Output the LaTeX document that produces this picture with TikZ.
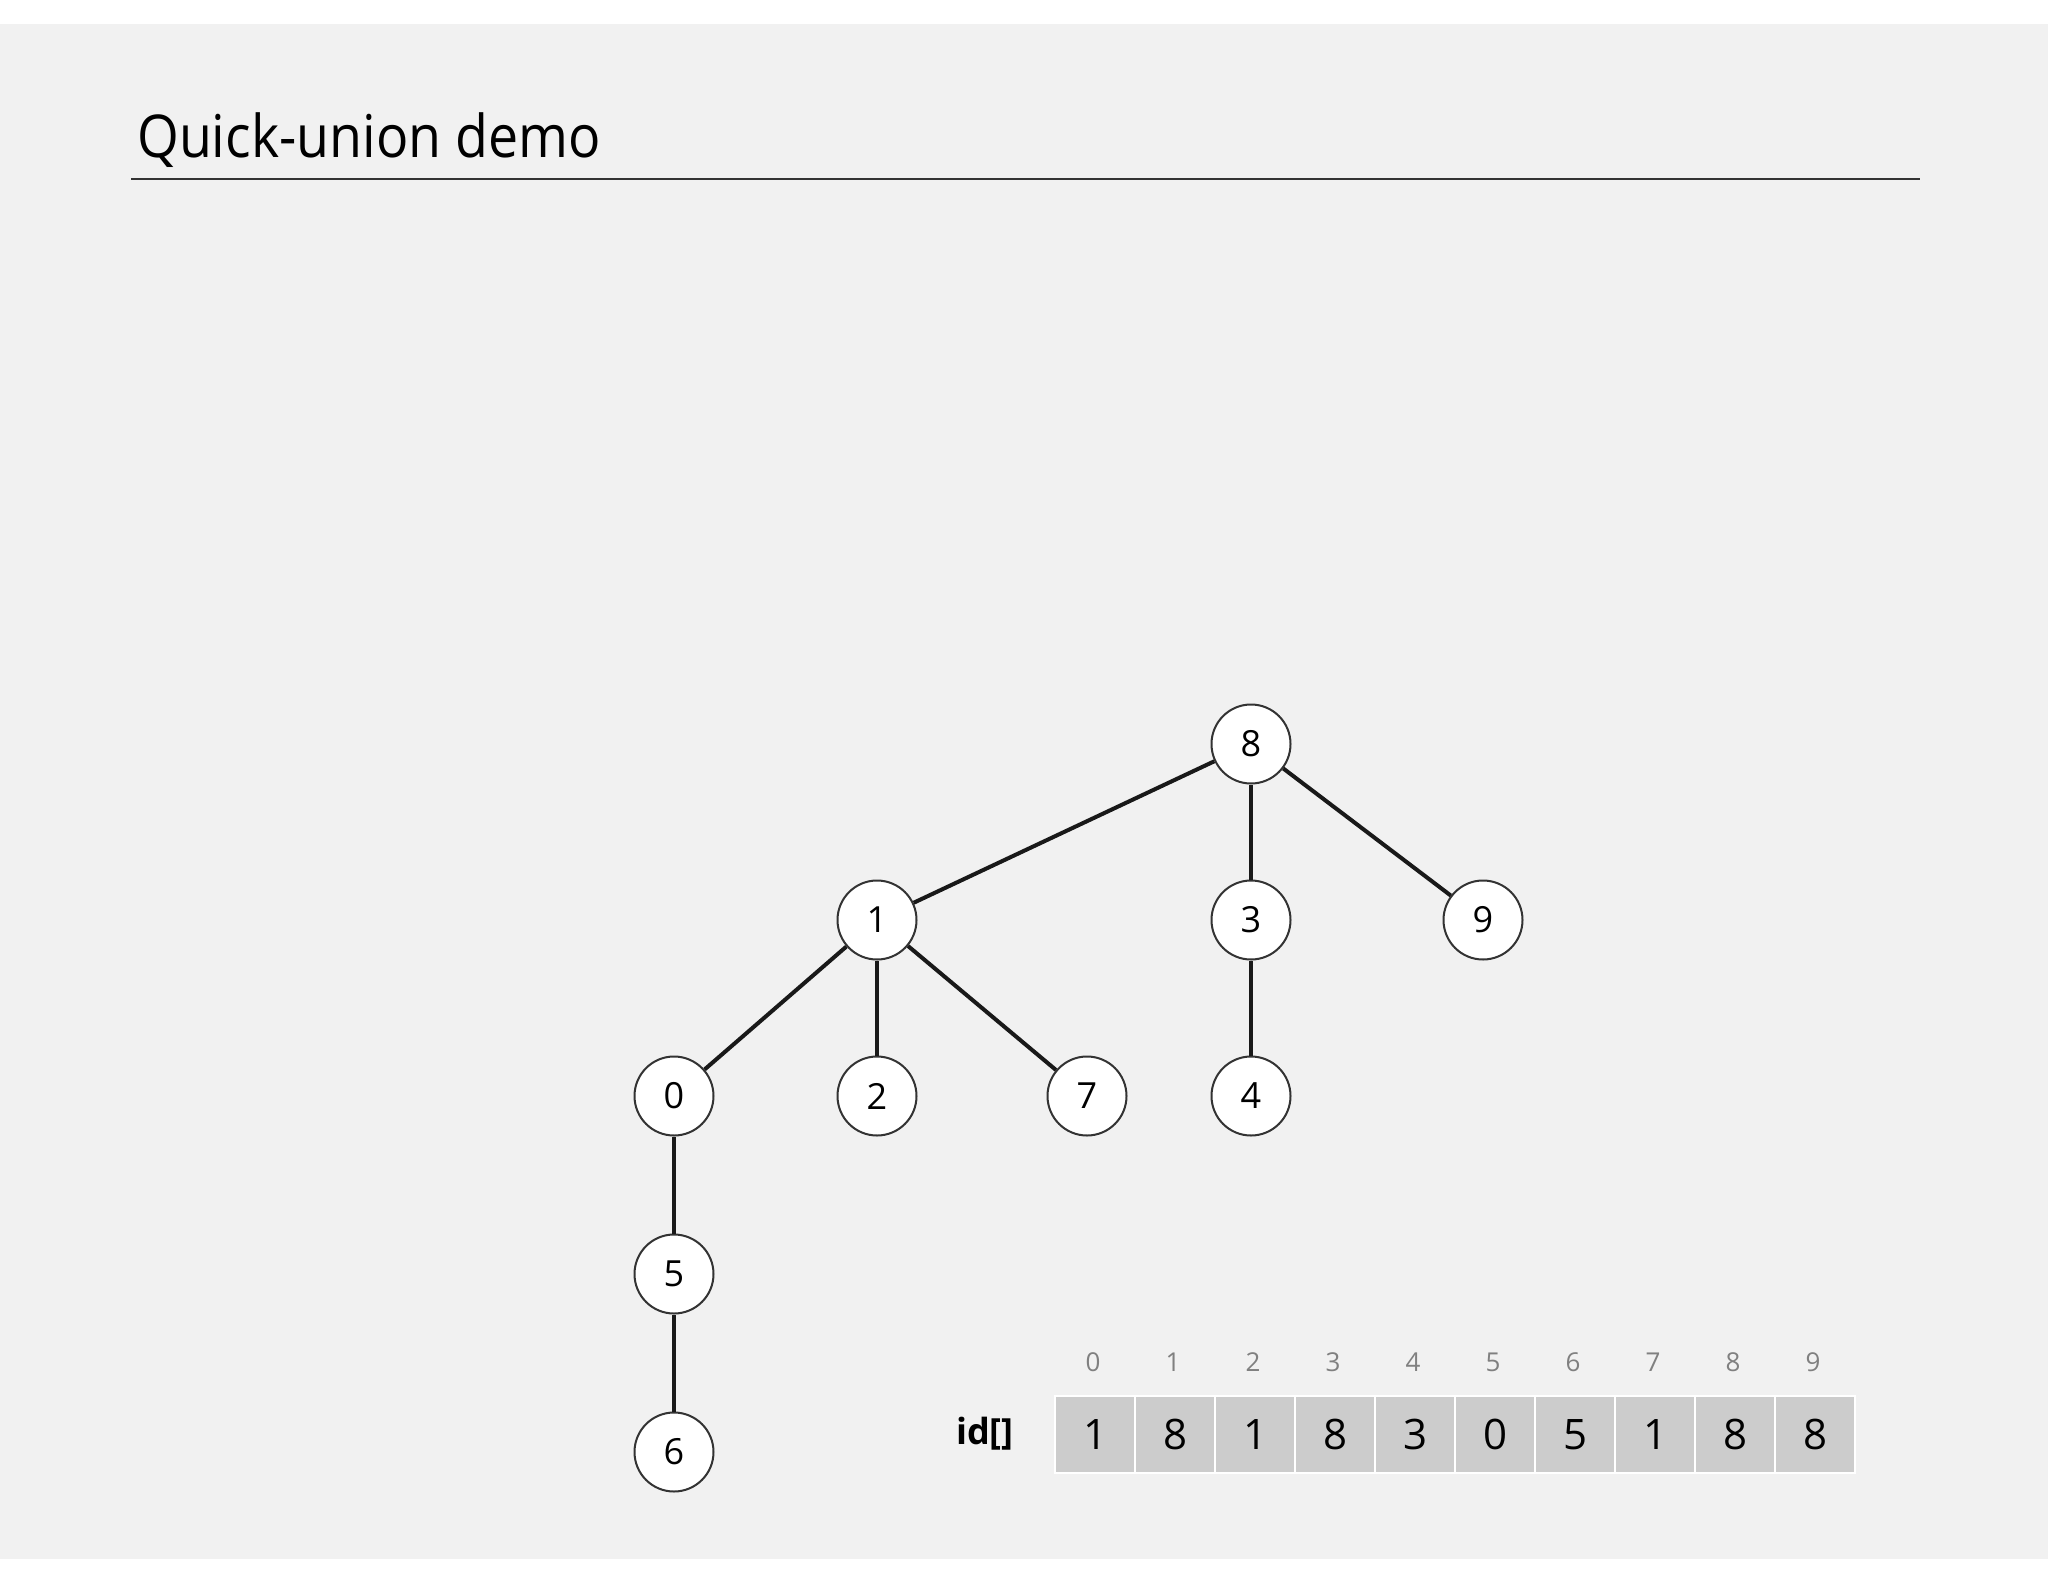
\documentclass[tikz,border=0pt]{standalone}
\usepackage{fontspec}
\setmainfont{Open Sans}
\newfontfamily\titlefont[FakeStretch=0.91]{Open Sans}
\definecolor{bggray}{HTML}{F1F1F1}
\definecolor{cellgray}{HTML}{CCCCCC}
\begin{document}
\begin{tikzpicture}[x=1pt,y=-1pt,
  treenode/.style={circle,draw=black!80,line width=2pt,fill=white,minimum size=79pt,inner sep=0pt,font=\fontsize{36}{36}\selectfont},
  edge/.style={line width=4pt,black!90},
  cellbox/.style={rectangle,fill=cellgray,draw=white,line width=2pt,minimum width=80pt,minimum height=77pt,inner sep=0pt,font=\fontsize{42}{42}\selectfont},
  idxlabel/.style={text=black!50,inner sep=0pt,font=\fontsize{26}{26}\selectfont}]
\useasboundingbox (0,0) rectangle (2048,1582);
\fill[white] (0,0) rectangle (2048,1582);
\fill[bggray] (0,24) rectangle (2048,1559);
% title
\node[anchor=base west,inner sep=0pt,font=\titlefont\fontsize{59}{59}\selectfont] (title) at (137,157) {Quick-union demo};
\draw[line width=2.5pt,black!80] (131,179) -- (1920,179);
% tree
\node[treenode] (n8) at (1251,744) {8};
\node[treenode] (n1) at (877,920) {1};
\node[treenode] (n3) at (1251,920) {3};
\node[treenode] (n9) at (1483,920) {9};
\node[treenode] (n0) at (674,1096) {0};
\node[treenode] (n2) at (877,1096) {2};
\node[treenode] (n7) at (1087,1096) {7};
\node[treenode] (n4) at (1251,1096) {4};
\node[treenode] (n5) at (674,1274) {5};
\node[treenode] (n6) at (674,1452) {6};
\draw[edge] (n8) -- (n1);
\draw[edge] (n8) -- (n3);
\draw[edge] (n8) -- (n9);
\draw[edge] (n1) -- (n0);
\draw[edge] (n1) -- (n2);
\draw[edge] (n1) -- (n7);
\draw[edge] (n3) -- (n4);
\draw[edge] (n0) -- (n5);
\draw[edge] (n5) -- (n6);
% array
\node[anchor=center,inner sep=0pt,font=\fontsize{36}{36}\selectfont\bfseries] (idlabel) at (985,1434) {id[]};
\foreach \i/\v in {0/1,1/8,2/1,3/8,4/3,5/0,6/5,7/1,8/8,9/8} {
  \node[cellbox] (c\i) at ({1095+80*\i},1434.5) {\v};
  \node[idxlabel] (i\i) at ({1093+80*\i},1362) {\i};
}
\end{tikzpicture}
\end{document}
